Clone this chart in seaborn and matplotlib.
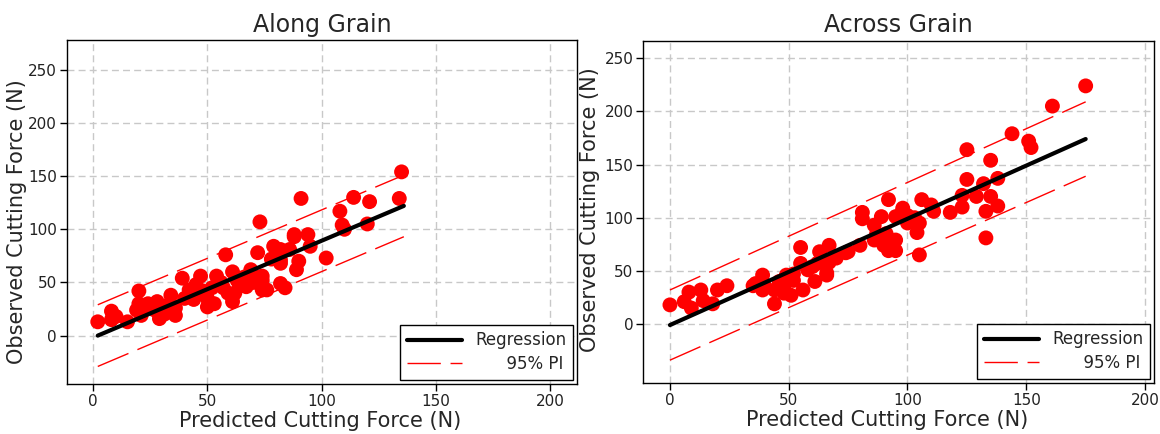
import matplotlib
matplotlib.use("Agg")
import matplotlib.pyplot as plt
import seaborn as sns
from matplotlib.lines import Line2D

# Along grain: predicted vs observed cutting force (N)
along_pred = [2, 8, 8, 10, 15, 20, 20, 19, 21, 23, 28, 27, 29, 31, 34, 33, 36, 31, 35, 39,
              42, 40, 47, 44, 45, 50, 50, 54, 53, 52, 56, 58, 59, 61, 61, 61, 64, 63, 69, 67,
              66, 69, 72, 73, 74, 74, 74, 76, 79, 82, 82, 82, 82, 84, 88, 86, 90, 89, 88, 94,
              95, 91, 102, 108, 109, 110, 114, 120, 121, 134, 135, 57, 70, 48, 62, 24, 36, 43, 78]
along_obs = [13, 23, 15, 18, 13, 42, 30, 24, 19, 27, 32, 24, 16, 20, 38, 29, 19, 21, 24, 54,
             43, 35, 56, 34, 48, 27, 35, 56, 30, 45, 50, 76, 40, 60, 32, 37, 48, 52, 60, 46,
             55, 62, 78, 107, 52, 43, 56, 43, 84, 71, 49, 81, 68, 45, 95, 81, 70, 62, 93, 95,
             84, 129, 73, 117, 104, 100, 130, 105, 126, 129, 154, 45, 50, 42, 40, 30, 26, 40, 72]
along_fit_x = [2, 136]
along_fit_y = [0, 122]
along_pi_lo = [-29, 93]
along_pi_hi = [29, 151]

# Across grain
across_pred = [0, 6, 8, 9, 13, 14, 18, 20, 24, 35, 36, 39, 39, 40, 44, 44, 48, 48, 49, 51,
               52, 52, 55, 55, 56, 58, 60, 61, 62, 63, 66, 66, 67, 67, 74, 75, 80, 81, 81, 86,
               87, 86, 89, 90, 91, 92, 92, 95, 95, 95, 98, 100, 100, 98, 104, 105, 105, 106, 110, 111,
               118, 123, 123, 125, 125, 129, 132, 133, 133, 135, 135, 138, 138, 144, 151, 152, 161, 175, 46, 70,
               103]
across_obs = [18, 21, 30, 15, 32, 22, 19, 32, 36, 36, 38, 46, 32, 35, 32, 19, 29, 35, 46, 27,
              41, 47, 72, 57, 32, 51, 54, 40, 57, 68, 48, 46, 58, 74, 67, 68, 74, 105, 99, 93,
              85, 79, 101, 74, 85, 69, 117, 69, 79, 101, 109, 102, 95, 107, 86, 95, 65, 117, 112, 106,
              105, 110, 121, 136, 164, 120, 132, 106, 81, 120, 154, 111, 137, 179, 172, 166, 205, 224, 40, 62,
              100]
across_fit_x = [0, 175]
across_fit_y = [-1, 174]
across_pi_lo = [-34, 139]
across_pi_hi = [32, 209]

ticks = [0, 50, 100, 150, 200, 250]
legend_labels = ["Regression", "      95% PI"]

sns.set_theme(style="white")
plt.rcParams["font.family"] = ["DejaVu Sans"]

PI_DASH = (0, (24, 7))


def draw_panel(ax, title, pred, obs, fit_x, fit_y, pi_lo, pi_hi, xlim, ylim, xlab_xy, ylab_xy):
    ax.grid(True, color="#c8c8c8", linestyle=(0, (5, 3)), linewidth=1)
    ax.set_axisbelow(True)
    sns.scatterplot(x=pred, y=obs, ax=ax, color="red", s=115, edgecolor="none", zorder=3)
    sns.lineplot(x=fit_x, y=fit_y, ax=ax, color="black", linewidth=3, estimator=None, zorder=4)
    for band in (pi_lo, pi_hi):
        sns.lineplot(x=fit_x, y=band, ax=ax, color="red", linewidth=1, estimator=None,
                     linestyle=PI_DASH, zorder=4)
    ax.set_xlim(*xlim)
    ax.set_ylim(*ylim)
    ax.set_xticks(ticks[:5])
    ax.set_yticks(ticks)
    ax.tick_params(direction="out", length=5, width=1, colors="black", labelcolor="#222222",
                   labelsize=11, pad=2, bottom=True, left=True)
    for sp in ax.spines.values():
        sp.set_color("black")
        sp.set_linewidth(1)
    ax.set_title(title, fontsize=17, pad=6)
    ax.set_xlabel("Predicted Cutting Force (N)", fontsize=15)
    ax.set_ylabel("Observed Cutting Force (N)", fontsize=15)
    ax.xaxis.set_label_coords(*xlab_xy)
    ax.yaxis.set_label_coords(*ylab_xy)

    handles = [Line2D([], [], color="black", lw=3),
               Line2D([], [], color="red", lw=1, linestyle=PI_DASH)]
    leg = ax.legend(handles, legend_labels, loc="lower right", fontsize=12, frameon=True,
                    fancybox=False, edgecolor="black", framealpha=1, borderaxespad=0.25,
                    handlelength=3.3, handletextpad=0.8, labelspacing=0.35, borderpad=0.4)
    leg.get_frame().set_linewidth(1)


fig = plt.figure(figsize=(11.6, 4.34), dpi=100)
ax1 = fig.add_axes([0.0575, 0.1152, 0.4399, 0.7926])
ax2 = fig.add_axes([0.5546, 0.1175, 0.4403, 0.7887])

draw_panel(ax1, "Along Grain", along_pred, along_obs, along_fit_x, along_fit_y,
           along_pi_lo, along_pi_hi, (-11.6, 211.8), (-45.5, 278), (0.496, -0.078), (-0.077, 0.472))
draw_panel(ax2, "Across Grain", across_pred, across_obs, across_fit_x, across_fit_y,
           across_pi_lo, across_pi_hi, (-11.2, 203.8), (-55.5, 266.5), (0.477, -0.079), (-0.085, 0.507))

fig.savefig("out.png", dpi=100)
